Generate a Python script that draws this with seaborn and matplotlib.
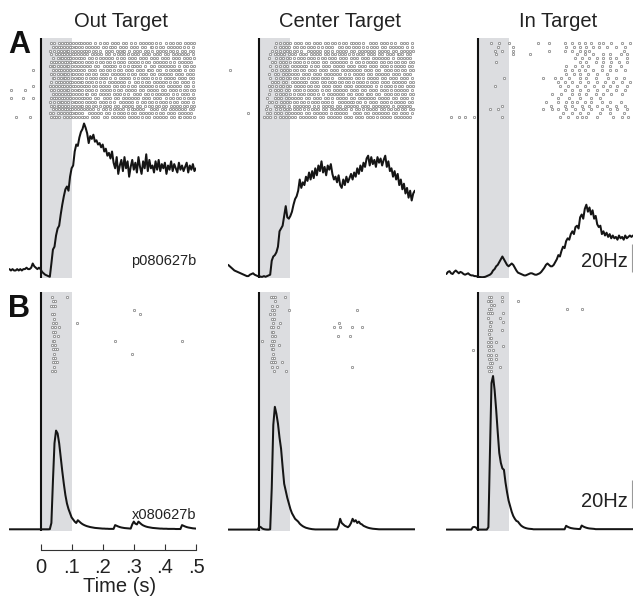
import numpy as np
import matplotlib
matplotlib.use("Agg")
import matplotlib.pyplot as plt
import seaborn as sns

sns.set_style("white")
plt.rcParams['font.family'] = ['Liberation Sans', 'DejaVu Sans']

# ---------------- data ----------------
conditions = ["Out Target", "Center Target", "In Target"]
row_labels = ["A", "B"]
cell_ids = ["p080627b", "x080627b"]
tick_values = [0, 0.1, 0.2, 0.3, 0.4, 0.5]
tick_labels = ["0", ".1", ".2", ".3", ".4", ".5"]
scale_label = "20Hz"
scale_hz = 20
x_label = "Time (s)"
shade_window = [0.0, 0.1]
t_start, t_end = -0.1, 0.5

# PSTH firing rates (Hz), 5 ms steps from -0.1 s to 0.5 s
psth_A_out = [6, 5, 6, 5, 5, 6, 5, 6, 5, 6, 6, 7, 6, 6, 7, 10, 8, 7, 6, 7, 6,
              4, 3, 2, 1.5, 1, 0.5, 10, 20, 22, 30,
              35, 37, 45, 52, 58, 63, 65, 62, 72, 78,
              80, 90, 95, 94, 100, 104, 106, 110, 107, 103,
              96, 101, 99, 102, 97, 98, 95, 96, 93, 95,
              90, 92, 87, 89, 85, 90, 82, 78, 86, 74,
              80, 84, 76, 86, 78, 83, 72, 79, 84, 77,
              82, 75, 86, 79, 74, 83, 78, 88, 76, 84,
              78, 80, 75, 83, 77, 84, 76, 81, 78, 82,
              74, 80, 77, 83, 76, 81, 78, 75, 82, 77,
              80, 76, 79, 82, 75, 80, 77, 81, 76, 78]
psth_A_center = [9, 8, 7, 6, 5, 4.5, 4, 3.5, 3, 2.5, 2, 1.5, 1, 1, 2, 2.5, 3, 2, 1.5, 1, 1,
                 0.5, 0.5, 1, 0.5, 1, 1.5, 2, 12, 15, 16,
                 18, 22, 33, 35, 37, 44, 51, 43, 42, 44,
                 47, 52, 56, 58, 62, 70, 64, 68, 66, 72,
                 69, 75, 70, 76, 71, 78, 73, 80, 76, 83,
                 75, 79, 73, 80, 77, 81, 74, 70, 72, 68,
                 73, 66, 64, 70, 66, 72, 68, 71, 74, 70,
                 75, 72, 78, 74, 80, 76, 82, 79, 85, 87,
                 80, 86, 81, 84, 79, 86, 82, 85, 80, 84,
                 87, 79, 83, 76, 78, 72, 76, 70, 74, 66,
                 70, 63, 67, 60, 64, 57, 62, 55, 60, 62]
psth_A_in = [2.5, 4, 4.5, 3, 2.5, 4, 5, 4, 3, 4, 3.5, 2.5, 2, 2.5, 3, 2, 1.5, 1.5, 1, 1, 0.6,
             0.4, 0.3, 0.2, 0.3, 0.5, 1, 1.5, 2, 3, 5,
             6, 8, 9, 11, 13, 15, 13, 11, 9, 8,
             9, 10, 9, 7, 5, 3.5, 3, 2.5, 2, 1.5,
             1.5, 2, 2.5, 3, 3, 2.5, 2, 2, 2.5, 3,
             4, 5.5, 7, 9, 10, 9, 8, 8, 9, 11,
             13, 16, 15, 19, 22, 21, 26, 28, 27, 31,
             33, 31, 36, 37, 35, 43, 45, 42, 49, 52,
             47, 50, 45, 48, 42, 44, 38, 36, 37, 31,
             33, 30, 32, 29, 31, 28, 30, 28, 29, 27,
             30, 28, 29, 27, 30, 28, 29, 30, 29, 30]
psth_B_out = [0.5] * 26 + [
              0.6, 5, 35, 62, 71, 69, 62, 52, 42, 33,
              25, 19, 15, 12, 9, 7.5, 6, 5, 7, 6,
              5, 4.2, 3.6, 3.1, 2.7, 2.4, 2.1, 1.9, 1.7, 1.5,
              1.4, 1.3, 1.2, 1.1, 1.0, 1.0, 0.9, 0.9, 0.8, 0.8,
              0.8, 0.8, 3.5, 3, 2.5, 2.1, 1.8, 1.6, 1.4, 1.3,
              1.2, 1.1, 1.0, 4, 6, 4.5, 4, 6, 5, 4,
              3.3, 2.8, 2.4, 2.1, 1.9, 1.7, 1.5, 1.4, 1.3, 1.2,
              1.1, 1.0, 1.0, 0.9, 0.9, 0.9, 0.8, 0.8, 0.8, 0.8,
              0.8, 0.7, 0.7, 0.7, 0.7, 3.5, 3, 2.5, 2.1, 1.8,
              1.6, 1.4, 1.2, 1.1, 1.0]
psth_B_center = [0.3] * 20 + [
                 2.5, 2, 1, 0.6, 0.4, 0.3, 0.3, 0.5, 30, 75,
                 88, 83, 76, 66, 58, 45, 33, 28, 23, 19,
                 15, 12, 10, 8, 7, 6, 4.5, 3.5, 2.7, 2.1,
                 1.6, 1.3, 1, 0.8, 0.6, 0.5, 0.4, 0.4, 0.4, 0.4,
                 0.4, 0.4, 0.4, 0.4, 0.4, 0.4, 0.4, 0.4, 0.4, 0.4,
                 0.4, 3, 8, 5, 4, 3, 2.5, 2, 3, 5,
                 8, 6, 7, 5, 6, 4.5, 4, 3, 2.5, 2,
                 1.6, 1.3, 1.1, 0.9, 0.8, 0.7, 0.6, 0.5, 0.5, 0.5,
                 0.5, 0.5, 0.5, 0.5, 0.5, 0.5, 0.5, 0.5, 0.5, 0.5,
                 0.5, 0.5, 0.5, 0.5, 0.5, 0.5, 0.5, 0.5, 0.5, 0.5, 0.5]
psth_B_in = [0.3] * 17 + [
             2, 2.2, 1.8, 0.4, 0.3, 0.3, 0.3, 0.3, 0.3, 0.3,
             2, 55, 105, 110, 100, 86, 70, 55, 48, 44,
             43, 34, 27, 21, 17, 13, 10, 8, 6.5, 6,
             4.5, 3.2, 2.4, 1.8, 1.4, 1.1, 0.9, 0.8, 0.7, 0.5,
             0.5, 0.5, 0.5, 0.5, 0.5, 0.5, 0.5, 0.5, 0.5, 0.5,
             0.5, 0.5, 0.5, 0.5, 0.5, 0.5, 0.5, 0.5, 0.5, 0.5,
             3, 2.3, 1.8, 1.4, 1.2, 1, 0.9, 0.8, 0.7, 0.7,
             3.2, 2.5, 2, 1.6, 1.3, 1.1, 1, 0.9, 0.8, 0.6,
             0.6, 0.6, 0.6, 0.6, 0.6, 0.6, 0.6, 0.6, 0.6, 0.6,
             0.6, 0.6, 0.6, 0.6, 0.6, 0.6, 0.6, 0.6, 0.6, 0.6,
             0.6, 0.6, 0.6, 0.6]

# Raster rows for dense panels: one character per 5 ms bin from -0.1 s, 'o' = spike
raster_A_out = [
    ".......... .......... .......o.o ..o.o.oo.o .o.o.oo.o. o.o..o..o. .o.o..o.o. o..o.o..o. .o..o.o.o. o.o.o..o.. .o.o.o..o. o..o.o.o.o",
    ".......... .......... ........o. o.oo.o.o.o o.oo.o.o.o .o.o.o.o.. o.o..oo.o. .o.o.o..o. o.o..o.o.. .oo.o..o.o ..o.o.o.o. o.o..o..o.",
    ".......... .......... ......o..o .o.o.o.oo. o.o.o.o.oo .o..o.o.o. ..o.o.o..o .o.oo..o.. o.o.o..o.o ..o..o.o.o .o.o.o..o. .o.o..o.o.",
    ".......... .......... .......o.. o.o.oo.o.o .oo.o.o.o. o..o.o.o.o ..o.o..o.. o.o.o.o..o .o.o..o.o. o..o.o.o.. o.o..o.o.o .o.o.o..o.",
    ".......... .......... ........o. .o.oo.o.oo .o.o.oo.o. .o.o..o.o. o.o.o.o..o ..o.o..o.o .o..o.o.o. .o.o.o..o. o.o..o.o.o ..o.o.o..o",
    ".......... .......... .......o.o o.o.o.oo.o o.oo.o.o.o .o.o..o.o. o..o.o.o.. o.o.o..o.o .o.o.o..o. o..o.o.o.o .o.o..o..o .o.o.o.o..",
    ".......... .......... ......o.oo .o.o.o.oo. o.o.o.o.o. o.o..o.o.. .o.o.oo.o. .o..o.o..o o.o.o..o.. .o.o..o.o. o.o.o.o..o ..o.o..o.o",
    ".......... .....o.... ........o. o.oo.o.o.o .o.oo.o.o. .o.o.o..o. o..o.o.o.. o.o..o.o.o ..o.o.o..o o.o..o.o.. .o.o.o.o.o o..o..o.o.",
    ".......... .......... .......o.o .o.o.oo.o. oo.o.o.o.o .o..o.o..o .o.o..o.o. o.o.o.o..o .o..o.o.o. .o.o..o.o. o.o.o..o.o .o..o.o.o.",
    ".......... .......... ........oo .o.o.oo.o. o.o.oo.o.o ..o.o.o.o. o.o..o..o. .o.o.o.o.. o..o.o.o.o ..o.o..o.. o.o.o.o..o .o.o..o.o.",
    ".......... .......... .......o.. o.oo.o.o.o o.o.o.oo.o .o.o..o.o. .o..o.o.o. o.o.o..o.. .o.o.o..o. o..o.o.o.o .o.o..o.o. .o.o.o..o.",
    ".......... .....o.... ......o.o. o.o.oo.o.o .oo.o.o.oo .o..o.o.o. o.o.o..o.o ..o.o.o..o .o..o.o.o. o.o.o..o.o ..o.o.o.o. o..o.o..o.",
    ".o........ o......... .......o.o .o.o.o.oo. o.o.oo.o.o .o.o..o..o .o.o.o.o.. o.o..o.o.o .o..o.o..o .o.o.o..o. o..o.o.o.. o.o.o..o.o",
    ".......... .......... ........o. o.o.o.o.oo .o.o.o.o.o o..o.o..o. o.o.o..o.o .o..o.o... o.o.o..o.o ..o.o.o.o. o.o..o..o. .o.o.o..o.",
    ".o.......o .....o.... .......o.o o.o.oo.o.o .o.o.o.oo. o.o..o.o.. .o.o.o..o. o..o.o.o.o .o.o..o.o. o..o.o.o.. .o.o.o..o. o.o..o.o.o",
    ".......... .......... ......o..o .o.oo.o.o. o.oo.o.o.o .o.o.o..o. o.o..o.o.. .o.o.o.o.o ..o..o.o.. o.o.o..o.o .o.o..o.o. .o.o.o..o.",
    ".......... .......... .......o.o .oo.o.o.o. o.o.o.oo.o .o..o.o.o. .o.o.o..o. o..o.o.o.o ..o.o..o.. o.o.o.o..o .o..o.o.o. o.o.o..o.o",
    ".......... .......... ........o. o.o.o.oo.o o.o.o.o.o. o.o.o..o.. o.o..o.o.o .o.o..o..o o.o.o.o... .o.o.o..o. o..o.o.o.o .o.o..o.o.",
    ".......... .......... ......o.o. .o.o.o.o.o o.oo.o.o.. .o.o.o.o.o ..o.o..o.. o.o.o.o..o .o..o.o.o. o.o.o..o.o ..o.o.o..o .o.o.o.o..",
    "....o..... ...o...... .......o.o o.o..o.o.o .o.o.o.oo. o..o.o.o.. .o.o..o.o. o.o.o..o.o .o.o.o..o. o..o.o.o.o .o..o.o..o o.o.o.o..o",
]
raster_A_center = [
    ".......... .......... .......... .o.o..o.o. o..o.o.o.. o.o..o.o.o ..o.o..o.o .o..o.o..o o.o.o..o.. .o.o.o..o. o.o..o.o.. .o.o.o..o.",
    ".......... .......... .......... o..o.o.o.o ..o.o..o.o .o.o.o..o. o..o.o.o.. .o.o..o.o. o.o.o..o.o ..o.o.o..o .o..o.o.o. o.o..o..o.",
    ".......... .......... ........o. .o.o..o.o. o.o.o..o.. .o.o.o.o.o ..o.o..o.. o.o.o.o..o .o..o.o.o. o.o.o..o.o .o.o..o.o. .o.o.o.o.o",
    ".......... .......... .......o.. o.o.o.o..o .o.o..o.o. o..o.o.o.o ..o.o..o.o .o.o.o..o. o..o.o.o.. o.o.o..o.o ..o.o.o..o o.o..o.o..",
    ".......... .......... ......o... .o.o.o..o. o.o..o.o.o .o.o.o..o. o.o..o.o.o ..o.o.o..o .o.o..o.o. o..o.o.o.o .o.o..o..o .o.o.o.o..",
    ".......... .......... ........o. o..o.o.o.. o.o.o.o..o .o..o.o.o. .o.o..o.o. o.o.o.o..o ..o.o..o.o .o.o.o..o. o..o.o.o.o ..o.o..o.o",
    ".......... .......... .......o.. .o.o..o.o. .o.o.o.o.o o..o..o.o. .o.o.o..o. o.o.o..o.o .o..o.o.o. .o.o.o..o. o.o..o.o.o .o.o..o.o.",
    ".o........ .......... ........o. .o..o.o.o. o.o.o..o.o ..o.o.o..o .o.o..o.o. o..o.o.o.o .o.o.o..o. o.o..o.o.. .o.o.o.o.o ..o.o..o.o",
    ".......... .......... ......o... o.o..o.o.o .o.o.o..o. o.o..o.o.o ..o.o.o.o. o.o..o..o. .o.o.o.o.. o.o..o.o.o .o.o..o.o. o..o.o.o..",
    ".......... .......... .......o.. .o.o.o..o. o.o.o..o.o .o..o.o.o. o.o.o..o.. .o.o.o.o.o ..o.o..o.. o.o.o.o..o .o..o.o.o. .o.o.o..o.",
    ".......... .......... ........o. o.o..o.o.. .o.o.o.o.o o..o.o.o.. o.o..o.o.o .o.o..o.o. o..o.o.o.o ..o.o.o..o .o.o..o.o. o.o.o..o.o",
    ".......... .......... ......o.o. .o.o.o..o. o..o.o.o.o .o.o..o.o. .o.o.o..o. o.o..o.o.o ..o.o.o.o. o.o..o..o. .o.o.o.o.. o.o..o.o.o",
    ".......... .......... .......o.. o.o.o..o.o ..o.o.o..o .o.o.o.o.. o..o.o..o. o.o.o.o..o .o.o..o.o. .o.o.o..o. o.o..o.o.o .o.o.o..o.",
    ".......... .......... ......o... .o.o.o.o.. o.o..o.o.o .o.o.o..o. .o..o.o.o. o.o.o..o.o ..o.o.o..o o.o..o.o.. .o.o.o.o.o ..o.o..o.o",
    ".......... .......... .....o.... o.o.o..o.o .o.o.o.o.. o.o..o.o.o ..o.o..o.. o.o.o.o..o .o..o.o.o. o.o.o..o.o .o.o..o.o. .o.o.o..o.",
    ".......... .......... ......o.o. .o..o.o.o. o.o.o..o.o .o..o.o.o. o.o.o..o.. .o.o.o.o.o o..o.o..o. .o.o.o..o. o.o..o.o.o .o.o..o.o.",
    ".......... .......... .....o.... o.o.o.o..o ..o.o.o.o. o.o..o..o. .o.o.o.o.. o.o..o.o.o .o.o..o.o. o..o.o.o.o .o.o..o..o .o.o.o.o..",
    ".......... .......... ....o..o.. .o.o..o.o. o.o.o.o..o .o..o.o.o. .o.o..o.o. o.o.o.o..o ..o.o..o.o .o.o.o..o. o..o.o.o.o ..o.o..o.o",
    ".......... ...o...... .....o.o.. o.o.o..o.o .o.o.o.o.. o.o..o.o.o .o.o..o..o o.o.o.o... .o.o.o..o. o..o.o.o.o .o.o..o.o. .o.o.o..o.",
    ".......... .......... ...o.o.o.. o..o.o.o.o .o.o..o.o. o.o.o.o..o .o..o.o.o. o.o..o.o.o ..o.o.o..o .o.o..o.o. o.o.o..o.o .o.o.o.o..",
]
# Raster rows for sparse panels: spike times in ms
raster_A_in = [
    [45, 70, 100, 195, 230, 280, 305, 325, 345, 365, 390, 405, 430, 465, 490],
    [65, 115, 285, 310, 330, 350, 370, 390, 415, 445, 475],
    [55, 80, 115, 230, 280, 305, 330, 345, 360, 470],
    [60, 115, 170, 320, 345, 370, 405, 425, 460, 480],
    [315, 335, 360, 385, 405, 425, 445, 480],
    [60, 330, 350, 380, 405, 430, 455, 480],
    [285, 315, 335, 355, 400, 425, 460],
    [280, 305, 325, 345, 370, 400, 425, 445, 475],
    [285, 310, 330, 355, 385, 415],
    [85, 210, 250, 270, 295, 330, 350, 380, 420, 445, 470],
    [260, 280, 305, 330, 355, 385, 410, 435, 465, 490],
    [55, 265, 290, 320, 345, 375, 405, 425, 450, 480],
    [280, 305, 330, 355, 385, 415, 445, 475],
    [240, 270, 305, 325, 350, 380, 405, 430, 465],
    [260, 295, 330, 365, 395],
    [220, 260, 285, 305, 320, 345, 365, 400, 425, 460],
    [80, 235, 280, 305, 335, 360, 385, 415, 445, 475],
    [40, 65, 210, 240, 260, 285, 315, 340, 365, 400, 425, 450, 480],
    [275, 305, 330, 355, 395, 425, 470],
    [-85, -60, -40, -10, 80, 265, 290, 320, 335, 350, 385, 435, 465, 485],
]
raster_B_out = [
    [36, 84], [40, 47], [35, 40, 47], [300], [38, 45, 320], [43],
    [40, 51, 116], [36, 46, 58], [39, 47], [42, 55], [40, 45, 240, 454],
    [38, 46], [40, 47, 52], [43, 293], [39, 46], [40, 47, 52], [42], [38, 47],
]
raster_B_center = [
    [37, 45, 52, 83], [50], [42, 56], [42, 47, 94, 315], [34, 48], [42, 48],
    [43, 67, 256], [37, 45, 59, 241, 259, 299, 329], [40, 45], [40, 52, 254, 292],
    [8, 42, 48], [37, 45, 64], [40, 45], [45], [40, 46], [37, 45, 50, 74],
    [42, 58, 299], [46, 85],
]
raster_B_in = [
    [38, 43, 80], [35, 40, 45, 80, 131], [42, 53], [37, 45, 287, 335],
    [35, 40, 47, 83], [35, 72], [40, 45, 83], [40], [38, 43, 78], [38],
    [40, 45], [35, 42, 59], [35, 42, 83], [-14, 38, 51], [35, 45, 59],
    [38, 45, 61], [40, 47], [35, 43, 72], [37, 43],
]

psths = [[psth_A_out, psth_A_center, psth_A_in],
         [psth_B_out, psth_B_center, psth_B_in]]
rasters = [[raster_A_out, raster_A_center, raster_A_in],
           [raster_B_out, raster_B_center, raster_B_in]]


def raster_points(rows):
    xs, ys = [], []
    for r, row in enumerate(rows):
        if isinstance(row, str):
            s = row.replace(" ", "")
            for i, ch in enumerate(s):
                if ch == "o":
                    xs.append(t_start + 0.005 * i)
                    ys.append(r)
        else:
            for ms in row:
                xs.append(ms / 1000.0)
                ys.append(r)
    return np.array(xs), np.array(ys)


# ---------------- layout (pixels) ----------------
W, H = 633, 598
fig = plt.figure(figsize=(W / 100, H / 100), dpi=100)


def rect(left, top, w, h):
    return [left / W, 1 - (top + h) / H, w / W, h / H]


col_left = [9.4, 228.2, 446.4]
col_w = 186.6
row_top = [38, 292]
row_h = [240, 239]
zero_px = [277.5, 530.0]
px_per_hz = 1.4
raster_first = [42.7, 297.0]
raster_last = [117.3, 371.0]
text_color = "#222222"
fs = 14.5

for ri in range(2):
    for ci in range(3):
        rc = rect(col_left[ci], row_top[ri], col_w, row_h[ri])
        ax = fig.add_axes(rc, label=f"main{ri}{ci}")
        ax.set_xlim(t_start, t_end)
        ylo = -(row_top[ri] + row_h[ri] - zero_px[ri]) / px_per_hz
        yhi = (zero_px[ri] - row_top[ri]) / px_per_hz
        ax.set_ylim(ylo, yhi)
        ax.axvspan(shade_window[0], shade_window[1], color="#dcdde0", lw=0, zorder=0)
        ax.axvline(0, color="#111111", lw=1.5, zorder=2)
        vals = np.array(psths[ri][ci], dtype=float)
        t = np.linspace(t_start, t_end, len(vals))
        sns.lineplot(x=t, y=vals, ax=ax, color="#151515", linewidth=1.45,
                     estimator=None, zorder=3)
        ax.set_xlabel("")
        ax.set_ylabel("")
        ax.set_yticks([])
        for sp in ax.spines.values():
            sp.set_visible(False)
        ax.patch.set_alpha(0)

        if ri == 0:
            ax.text(0.26, 1 + (row_top[0] - 27) / row_h[0], conditions[ci],
                    transform=ax.get_xaxis_transform(), ha="center",
                    va="baseline", fontsize=fs, color=text_color)
        if ci == 0:
            base = 9.0 if ri == 0 else 7.9
            ax.text(0.5, base, cell_ids[ri], ha="right", va="baseline",
                    fontsize=10.5, color=text_color)
        if ci == 2:
            base = 7.7 if ri == 0 else 16.4
            bar0 = 4 if ri == 0 else 16
            ax.text(0.484, base, scale_label, ha="right", va="baseline",
                    fontsize=fs, color=text_color)
            ax.vlines(0.497, bar0, bar0 + scale_hz, color="#9a9a9a", lw=0.8,
                      clip_on=False)

        if ri == 1 and ci == 0:
            sp = ax.spines["bottom"]
            sp.set_visible(True)
            sp.set_position(("outward", 13.7))
            sp.set_bounds(0, 0.5)
            sp.set_color("#333333")
            sp.set_linewidth(0.8)
            ax.set_xticks(tick_values)
            ax.set_xticklabels(tick_labels)
            ax.tick_params(axis="x", direction="in", length=4, width=0.8,
                           color="#333333", labelsize=fs, pad=5.5,
                           labelcolor=text_color, bottom=True)
            ax.set_xlabel(x_label, fontsize=fs, color=text_color)
            ax.xaxis.set_label_coords((0.255 - t_start) / (t_end - t_start), -0.192)
        else:
            ax.set_xticks([])

        # raster overlay
        rows = rasters[ri][ci]
        n = len(rows)
        sp_px = (raster_last[ri] - raster_first[ri]) / (n - 1)
        axr = fig.add_axes(rc, label=f"raster{ri}{ci}")
        axr.set_xlim(t_start, t_end)
        top_val = (row_top[ri] - raster_first[ri]) / sp_px
        bot_val = (row_top[ri] + row_h[ri] - raster_first[ri]) / sp_px
        axr.set_ylim(bot_val, top_val)
        xs, ys = raster_points(rows)
        sns.scatterplot(x=xs, y=ys, ax=axr, marker="o", s=2.9, color="white",
                        edgecolor="#7c7c7c", linewidth=0.5, zorder=4)
        axr.axis("off")
        axr.patch.set_alpha(0)

fig.text(8 / W, 1 - 53 / H, row_labels[0], fontsize=22, fontweight="bold",
         ha="left", va="baseline", color="#111111")
fig.text(8 / W, 1 - 317 / H, row_labels[1], fontsize=22, fontweight="bold",
         ha="left", va="baseline", color="#111111")

fig.savefig("out.png", dpi=100, facecolor="white")
